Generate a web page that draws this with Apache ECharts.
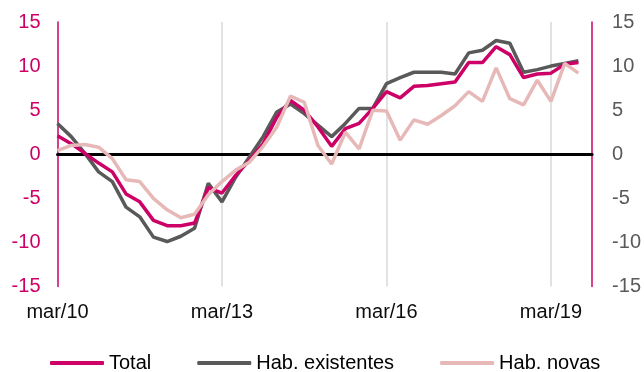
<!DOCTYPE html>
<html>
<head>
<meta charset="utf-8">
<script src="https://cdn.jsdelivr.net/npm/echarts@6/dist/echarts.min.js"></script>
<style>
  html, body { margin: 0; padding: 0; background: #fff; }
  #chart { width: 644px; height: 372px; }
</style>
</head>
<body>
<div id="chart"></div>
<script>
// Quarterly categories: mar/10 ... dez/19
const months = ['mar', 'jun', 'set', 'dez'];
const quarters = [];
for (let y = 10; y <= 19; y++) {
  for (const m of months) quarters.push(m + '/' + y);
}

// Year-on-year change (%)
const total = [
  2.1, 1.2, 0.1, -1.0, -2.0, -4.5, -5.4, -7.5, -8.1, -8.1,
  -7.8, -3.8, -4.4, -2.4, -0.7, 1.2, 4.2, 6.1, 5.0, 3.1,
  0.9, 2.9, 3.5, 5.2, 7.1, 6.4, 7.7, 7.8, 8.0, 8.2,
  10.4, 10.4, 12.2, 11.3, 8.7, 9.1, 9.2, 10.2, 10.4, null
];
const existentes = [
  3.5, 2.0, 0.1, -2.0, -3.1, -6.0, -7.1, -9.4, -9.9, -9.3,
  -8.4, -3.3, -5.4, -2.6, -0.3, 2.0, 4.8, 5.7, 4.6, 3.3,
  2.0, 3.5, 5.2, 5.2, 8.0, 8.7, 9.3, 9.3, 9.3, 9.1,
  11.5, 11.8, 12.9, 12.6, 9.3, 9.6, 10.0, 10.3, 10.6, null
];
const novas = [
  0.4, 1.0, 1.1, 0.8, -0.5, -2.9, -3.1, -5.0, -6.3, -7.2,
  -6.8, -4.6, -3.1, -1.8, -0.9, 0.9, 3.1, 6.6, 5.9, 1.0,
  -1.1, 2.5, 0.6, 5.0, 4.9, 1.6, 3.9, 3.4, 4.4, 5.5,
  7.1, 6.0, 9.8, 6.3, 5.6, 8.4, 6.0, 10.3, 9.2, null
];

const FONT = 'Liberation Sans, Arial, sans-serif';
const MAGENTA = '#CC0066';

const chart = echarts.init(document.getElementById('chart'), null, { renderer: 'canvas' });

const yBase = {
  type: 'value', min: -15, max: 15, interval: 5,
  splitLine: { show: false },
  axisTick: { show: false },
  axisLine: { show: true, lineStyle: { color: MAGENTA, width: 1.5 } }
};

chart.setOption({
  animation: false,
  backgroundColor: '#fff',
  grid: { left: 57.5, right: 51.5, top: 22, bottom: 85.5 },
  legend: {
    left: 45, top: 348,
    itemWidth: 54, itemHeight: 4, itemGap: 46,
    icon: 'roundRect',
    textStyle: { fontFamily: FONT, fontSize: 20, color: '#000' },
    data: ['Total', 'Hab. existentes', 'Hab. novas']
  },
  xAxis: {
    type: 'category',
    data: quarters,
    boundaryGap: false,
    axisLine: { show: true, onZero: true, lineStyle: { color: '#000', width: 3 } },
    axisTick: { show: false },
    axisLabel: {
      interval: (i) => i % 12 === 0,
      fontFamily: FONT, fontSize: 20, color: '#0d0d0d', margin: 16
    },
    splitLine: {
      show: true,
      interval: (i) => i % 12 === 0 && i > 0,
      lineStyle: { color: '#D9D9D9', width: 1.5 }
    }
  },
  yAxis: [
    Object.assign({}, yBase, {
      position: 'left',
      axisLabel: { fontFamily: FONT, fontSize: 20, color: MAGENTA, margin: 17 }
    }),
    Object.assign({}, yBase, {
      position: 'right',
      axisLabel: { fontFamily: FONT, fontSize: 20, color: '#595959', margin: 20 }
    })
  ],
  series: [
    {
      name: 'Total', type: 'line', data: total, yAxisIndex: 0, z: 3,
      symbol: 'none', lineStyle: { color: MAGENTA, width: 3.5 }, itemStyle: { color: MAGENTA }
    },
    {
      name: 'Hab. existentes', type: 'line', data: existentes, yAxisIndex: 0, z: 2,
      symbol: 'none', lineStyle: { color: '#595959', width: 3.5 }, itemStyle: { color: '#595959' }
    },
    {
      name: 'Hab. novas', type: 'line', data: novas, yAxisIndex: 0, z: 4,
      symbol: 'none', lineStyle: { color: '#E6B9B8', width: 3.5 }, itemStyle: { color: '#E6B9B8' }
    }
  ]
});
</script>
</body>
</html>
